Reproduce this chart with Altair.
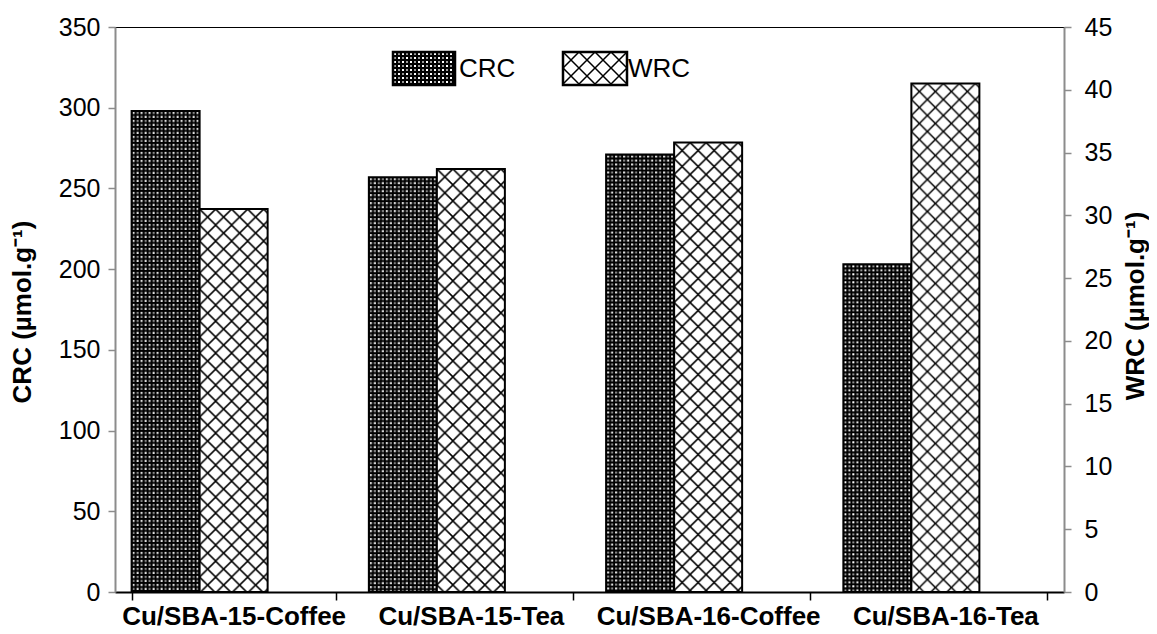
import altair as alt
import pandas as pd
from urllib.parse import quote

# ---- data ----
categories = ["Cu/SBA-15-Coffee", "Cu/SBA-15-Tea", "Cu/SBA-16-Coffee", "Cu/SBA-16-Tea"]
crc_values = [298, 257, 271, 203]      # µmol/g, left axis
wrc_values = [30.5, 33.7, 35.8, 40.5]  # µmol/g, right axis
series_slots = ["CRC", "WRC", "gap"]    # Excel-like cluster with an empty third slot
crc_ticks = [0, 50, 100, 150, 200, 250, 300, 350]
wrc_ticks = [0, 5, 10, 15, 20, 25, 30, 35, 40, 45]

crc_df = pd.DataFrame({"cat": categories, "series": "CRC", "value": crc_values})
wrc_df = pd.DataFrame({"cat": categories, "series": "WRC", "value": wrc_values})
legend_df = pd.DataFrame({"k": [0]})

# ---- hatch patterns (as SVG images, 1:1 tiling) ----
def svg_uri(svg):
    return "data:image/svg+xml," + quote(svg)

CRC_PAT = svg_uri(
    '<svg xmlns="http://www.w3.org/2000/svg" width="100%" height="100%">'
    '<defs><pattern id="p" width="8" height="8" patternUnits="userSpaceOnUse">'
    '<rect width="8" height="8" fill="#000"/>'
    '<rect x="1" y="1" width="2" height="2" fill="#fff"/>'
    '<rect x="5" y="5" width="2" height="2" fill="#fff"/>'
    '<rect x="5" y="1" width="2" height="2" fill="#9a9a9a"/>'
    '<rect x="1" y="5" width="2" height="2" fill="#9a9a9a"/>'
    '</pattern></defs><rect width="100%" height="100%" fill="url(#p)"/></svg>'
)
WRC_PAT = svg_uri(
    '<svg xmlns="http://www.w3.org/2000/svg" width="100%" height="100%">'
    '<defs><pattern id="q" width="16" height="16" patternUnits="userSpaceOnUse">'
    '<rect width="16" height="16" fill="#fff"/>'
    '<path d="M0 0L16 16M16 0L0 16" stroke="#000" stroke-width="1.5"/>'
    '</pattern></defs><rect width="100%" height="100%" fill="url(#q)"/></svg>'
)

FONT = "Liberation Sans"
W, H = 949, 565

x_enc = alt.X(
    "cat:N",
    sort=categories,
    scale=alt.Scale(paddingInner=0.14, paddingOuter=0.07),
    axis=alt.Axis(
        title=None, labelAngle=0, labelFont=FONT, labelFontSize=26, labelFontWeight="bold",
        labelColor="black", labelPadding=3, labelLimit=0, labelOverlap=False,
        tickBand="extent", tickSize=8, tickWidth=1.5,
        tickColor="black", domainColor="black", domainWidth=2, grid=False,
    ),
)
xo_enc = alt.XOffset("series:N", scale=alt.Scale(domain=series_slots))

left_axis = alt.Axis(
    orient="left", values=crc_ticks, grid=False, labelFont=FONT, labelFontSize=25,
    labelColor="black", labelPadding=8, tickSize=7, tickColor="#8c8c8c", tickWidth=1.5,
    domainColor="#8c8c8c", domainWidth=2,
    title="CRC (µmol.g⁻¹)", titleFont=FONT, titleFontSize=26, titleFontWeight="bold",
    titleColor="black", titleAngle=270, titleX=-93, titleY=H / 2 + 2,
    titleAlign="center", titleBaseline="middle",
)
right_axis = alt.Axis(
    orient="right", values=wrc_ticks, grid=False, labelFont=FONT, labelFontSize=25,
    labelColor="black", labelPadding=13, tickSize=7, tickColor="#8c8c8c", tickWidth=1.5,
    domainColor="#8c8c8c", domainWidth=2,
    title="WRC (µmol.g⁻¹)", titleFont=FONT, titleFontSize=26, titleFontWeight="bold",
    titleColor="black", titleAngle=270, titleX=71, titleY=H / 2 - 4,
    titleAlign="center", titleBaseline="middle",
)

def series_layer(df, pat, axis, domain):
    y = alt.Y("value:Q", scale=alt.Scale(domain=domain, nice=False, zero=True), axis=axis)
    img = alt.Chart(df).mark_image(aspect=False).encode(
        x=x_enc, xOffset=xo_enc, y=y, y2=alt.Y2(datum=0), url=alt.value(pat)
    )
    outline = alt.Chart(df).mark_bar(fillOpacity=0, stroke="black", strokeWidth=2).encode(
        x=x_enc, xOffset=xo_enc, y=y
    )
    return alt.layer(img, outline)

crc_layer = series_layer(crc_df, CRC_PAT, left_axis, [0, 350])
wrc_layer = series_layer(wrc_df, WRC_PAT, right_axis, [0, 45])

# ---- manual legend (pattern swatches + labels) ----
def swatch(pat, x0, x1):
    img = alt.Chart(legend_df).mark_image(aspect=False).encode(
        x=alt.value(x0), x2=alt.value(x1), y=alt.value(25), y2=alt.value(58), url=alt.value(pat)
    )
    box = alt.Chart(legend_df).mark_rect(fillOpacity=0, stroke="black", strokeWidth=2.5).encode(
        x=alt.value(x0), x2=alt.value(x1), y=alt.value(25), y2=alt.value(58)
    )
    return img + box

def label(txt, x0):
    return alt.Chart(legend_df).mark_text(
        text=txt, font=FONT, fontSize=26, align="left", baseline="middle", color="black"
    ).encode(x=alt.value(x0), y=alt.value(42))

legend = alt.layer(
    swatch(CRC_PAT, 278, 340), label("CRC", 344),
    swatch(WRC_PAT, 448, 512), label("WRC", 513),
)

chart = (
    alt.layer(crc_layer, wrc_layer, legend)
    .resolve_scale(y="independent")
    .properties(
        width=W, height=H,
        autosize=alt.AutoSizeParams(type="none"),
        padding={"left": 107, "top": 19, "right": 85, "bottom": 40},
        background="white",
    )
    .configure_view(stroke="black", strokeWidth=1)
)

chart.save("out.html", embed_options={"renderer": "svg", "actions": False})
